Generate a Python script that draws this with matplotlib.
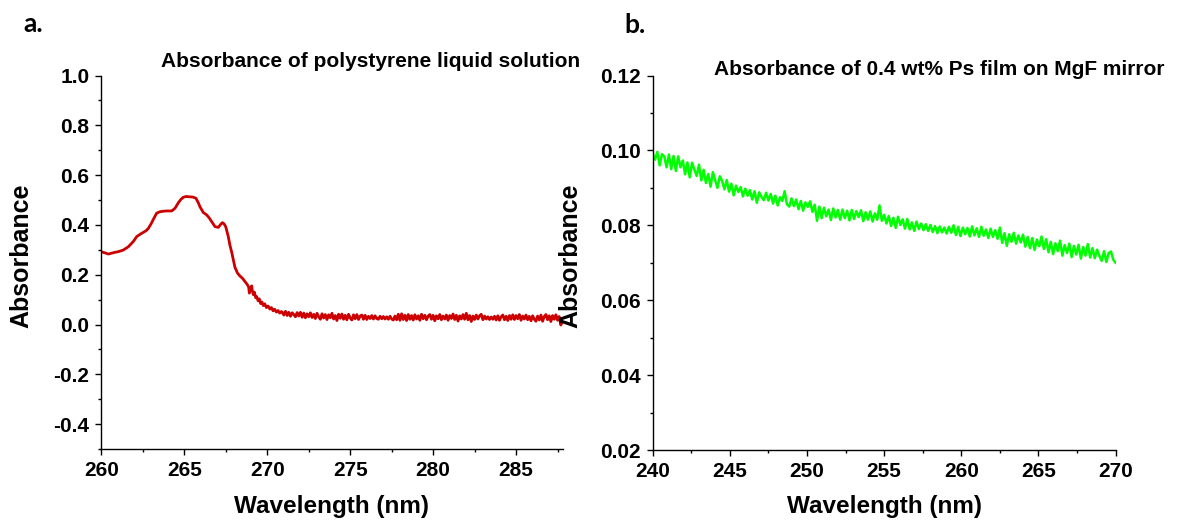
import numpy as np
import matplotlib
matplotlib.use("Agg")
import matplotlib.pyplot as plt
from matplotlib.ticker import MultipleLocator, FormatStrFormatter

# ---------------- data: panel a (polystyrene liquid solution) ----------------
head_wl = [260.0, 260.2, 260.42, 260.6, 260.82, 261.0, 261.32, 261.62, 261.92, 262.13,
           262.35, 262.53, 262.7, 262.83, 263.0, 263.13, 263.33, 263.53, 263.75, 263.94,
           264.24, 264.44, 264.64, 264.8, 264.94, 265.1, 265.34, 265.5, 265.7, 265.85,
           265.94, 266.14, 266.35, 266.5, 266.65, 266.85, 267.05, 267.2, 267.29, 267.4,
           267.5, 267.65, 267.75, 267.85, 267.95, 268.05, 268.2, 268.35, 268.5, 268.66,
           268.8, 268.88, 268.92, 268.98, 269.06, 269.1, 269.16, 269.22, 269.3, 269.36,
           269.45, 269.52, 269.6, 269.68, 269.76, 269.85, 269.95, 270.05, 270.16, 270.25,
           270.35, 270.45, 270.55, 270.65, 270.75, 270.85]
head_abs = [0.292, 0.288, 0.283, 0.286, 0.290, 0.292, 0.299, 0.312, 0.333, 0.353,
            0.363, 0.370, 0.377, 0.386, 0.405, 0.422, 0.447, 0.453, 0.455, 0.456,
            0.456, 0.467, 0.489, 0.503, 0.511, 0.514, 0.513, 0.512, 0.507, 0.488,
            0.473, 0.450, 0.440, 0.428, 0.413, 0.393, 0.390, 0.403, 0.409, 0.404,
            0.392, 0.353, 0.318, 0.292, 0.260, 0.230, 0.207, 0.195, 0.186, 0.172,
            0.160, 0.150, 0.126, 0.145, 0.155, 0.135, 0.120, 0.130, 0.108, 0.112,
            0.095, 0.103, 0.084, 0.090, 0.076, 0.083, 0.068, 0.074, 0.062, 0.068,
            0.055, 0.061, 0.050, 0.056, 0.046, 0.052]

# tail sampled every 0.1 nm from 270.9 nm to 287.8 nm
tail_start, tail_step = 270.9, 0.1
tail_abs = [0.050, 0.038, 0.053, 0.036, 0.049, 0.033, 0.047, 0.040, 0.031, 0.048,
            0.034, 0.049, 0.029, 0.046, 0.027, 0.043, 0.031, 0.047, 0.028, 0.041,
            0.024, 0.045, 0.031, 0.021, 0.043, 0.026, 0.040, 0.020, 0.039, 0.027,
            0.045, 0.022, 0.036, 0.016, 0.041, 0.025, 0.042, 0.021, 0.037, 0.019,
            0.041, 0.026, 0.018, 0.039, 0.023, 0.040, 0.020, 0.034, 0.038, 0.021,
            0.037, 0.020, 0.033, 0.024, 0.036, 0.022, 0.035, 0.024, 0.021, 0.033,
            0.023, 0.032, 0.022, 0.031, 0.021, 0.033, 0.022, 0.018, 0.034, 0.019,
            0.041, 0.017, 0.043, 0.020, 0.037, 0.016, 0.040, 0.021, 0.036, 0.018,
            0.039, 0.022, 0.035, 0.017, 0.041, 0.023, 0.037, 0.019, 0.034, 0.040,
            0.021, 0.037, 0.015, 0.035, 0.023, 0.040, 0.019, 0.034, 0.022, 0.038,
            0.017, 0.036, 0.024, 0.042, 0.020, 0.037, 0.014, 0.035, 0.022, 0.040,
            0.021, 0.045, 0.019, 0.036, 0.012, 0.034, 0.020, 0.038, 0.022, 0.035,
            0.041, 0.019, 0.034, 0.022, 0.031, 0.020, 0.030, 0.021, 0.033, 0.018,
            0.035, 0.017, 0.031, 0.038, 0.019, 0.033, 0.016, 0.036, 0.021, 0.039,
            0.020, 0.036, 0.023, 0.040, 0.017, 0.034, 0.022, 0.038, 0.019, 0.033,
            0.015, 0.035, 0.021, 0.013, 0.034, 0.018, 0.038, 0.013, 0.032, 0.040,
            0.019, 0.035, 0.012, 0.036, 0.021, 0.039, 0.017, 0.032, -0.002, 0.016]

# ---------------- data: panel b (0.4 wt% Ps film on MgF mirror) ----------------
film_start, film_step = 240.0, 0.15
film_abs = [0.0992, 0.0975, 0.0996, 0.0960, 0.0990, 0.0984, 0.0955, 0.0989, 0.0950, 0.0985,
            0.0945, 0.0984, 0.0955, 0.0973, 0.0936, 0.0968, 0.0928, 0.0967, 0.0949, 0.0932,
            0.0962, 0.0920, 0.0948, 0.0913, 0.0937, 0.0903, 0.0942, 0.0920, 0.0900, 0.0931,
            0.0918, 0.0896, 0.0921, 0.0890, 0.0911, 0.0880, 0.0906, 0.0889, 0.0902, 0.0877,
            0.0898, 0.0879, 0.0894, 0.0869, 0.0891, 0.0860, 0.0888, 0.0876, 0.0867, 0.0887,
            0.0866, 0.0884, 0.0858, 0.0879, 0.0853, 0.0875, 0.0865, 0.0891, 0.0856, 0.0850,
            0.0872, 0.0851, 0.0869, 0.0843, 0.0865, 0.0839, 0.0861, 0.0849, 0.0864, 0.0836,
            0.0855, 0.0812, 0.0850, 0.0819, 0.0847, 0.0824, 0.0842, 0.0814, 0.0845, 0.0821,
            0.0841, 0.0815, 0.0842, 0.0819, 0.0839, 0.0813, 0.0841, 0.0817, 0.0838, 0.0822,
            0.0840, 0.0811, 0.0835, 0.0815, 0.0837, 0.0810, 0.0832, 0.0815, 0.0853, 0.0812,
            0.0828, 0.0805, 0.0825, 0.0798, 0.0820, 0.0793, 0.0823, 0.0801, 0.0816, 0.0791,
            0.0817, 0.0789, 0.0808, 0.0785, 0.0810, 0.0790, 0.0805, 0.0787, 0.0803, 0.0785,
            0.0801, 0.0782, 0.0798, 0.0779, 0.0797, 0.0781, 0.0794, 0.0778, 0.0796, 0.0780,
            0.0800, 0.0774, 0.0796, 0.0771, 0.0794, 0.0776, 0.0793, 0.0770, 0.0797, 0.0773,
            0.0792, 0.0769, 0.0796, 0.0772, 0.0789, 0.0766, 0.0791, 0.0769, 0.0787, 0.0764,
            0.0794, 0.0753, 0.0779, 0.0745, 0.0776, 0.0756, 0.0780, 0.0751, 0.0773, 0.0754,
            0.0775, 0.0743, 0.0769, 0.0739, 0.0766, 0.0734, 0.0762, 0.0744, 0.0770, 0.0737,
            0.0763, 0.0728, 0.0756, 0.0723, 0.0752, 0.0731, 0.0759, 0.0719, 0.0747, 0.0726,
            0.0751, 0.0715, 0.0745, 0.0722, 0.0748, 0.0711, 0.0742, 0.0719, 0.0750, 0.0714,
            0.0739, 0.0712, 0.0735, 0.0718, 0.0705, 0.0731, 0.0702, 0.0726, 0.0730, 0.0708,
            0.0700]

# ---------------- text ----------------
panel_letters = ["a.", "b."]
titles = ["Absorbance of polystyrene liquid solution",
          "Absorbance of 0.4 wt% Ps film on MgF mirror"]
xlabel = "Wavelength (nm)"
ylabel = "Absorbance"
xticks_a = [260, 265, 270, 275, 280, 285]
yticks_a = [-0.4, -0.2, 0.0, 0.2, 0.4, 0.6, 0.8, 1.0]
xticks_b = [240, 245, 250, 255, 260, 265, 270]
yticks_b = [0.02, 0.04, 0.06, 0.08, 0.10, 0.12]

# ---------------- build arrays ----------------
tail_wl = tail_start + tail_step * np.arange(len(tail_abs))
wl_a = np.concatenate([head_wl, tail_wl])
abs_a = np.concatenate([head_abs, tail_abs])
wl_b = film_start + film_step * np.arange(len(film_abs))
abs_b = np.array(film_abs)

# ---------------- figure ----------------
W, H = 1188, 521
fig = plt.figure(figsize=(W / 100, H / 100), dpi=100)
FONT = "Liberation Sans"


def px(x0, y0, x1, y1):
    return [x0 / W, 1 - y1 / H, (x1 - x0) / W, (y1 - y0) / H]


ax_a = fig.add_axes(px(101.4, 75.5, 562.5, 449))
ax_b = fig.add_axes(px(652.7, 75.5, 1115.6, 450))

ax_a.plot(wl_a, abs_a, color="#CC0000", lw=2.0, solid_joinstyle="round")
ax_b.plot(wl_b, abs_b, color="#00FF00", lw=1.8, solid_joinstyle="round")

ax_a.set_xlim(260, 287.8)
ax_a.set_ylim(-0.5, 1.0)
ax_b.set_xlim(240, 270)
ax_b.set_ylim(0.02, 0.12)

ax_a.set_xticks(xticks_a)
ax_a.set_yticks(yticks_a)
ax_a.xaxis.set_minor_locator(MultipleLocator(2.5))
ax_a.yaxis.set_minor_locator(MultipleLocator(0.1))
ax_a.yaxis.set_major_formatter(FormatStrFormatter("%.1f"))

ax_b.set_xticks(xticks_b)
ax_b.set_yticks(yticks_b)
ax_b.xaxis.set_minor_locator(MultipleLocator(2.5))
ax_b.yaxis.set_minor_locator(MultipleLocator(0.01))
ax_b.yaxis.set_major_formatter(FormatStrFormatter("%.2f"))

for ax in (ax_a, ax_b):
    for s in ("top", "right"):
        ax.spines[s].set_visible(False)
    for s in ("left", "bottom"):
        ax.spines[s].set_linewidth(1.0)
    ax.tick_params(which="major", direction="out", length=4.5, width=1.0,
                   labelsize=15, pad=4)
    ax.tick_params(which="minor", direction="out", length=2.5, width=1.0)
    for lab in ax.get_xticklabels() + ax.get_yticklabels():
        lab.set_fontfamily(FONT)
        lab.set_fontweight("bold")

# panel letters
fig.text(33.5 / W, 1 - 24.5 / H, panel_letters[0], family="Lato", weight="bold",
         fontsize=19, ha="center", va="center")
fig.text(635.5 / W, 1 - 25 / H, panel_letters[1], family="Lato", weight="bold",
         fontsize=19, ha="center", va="center")

# titles
fig.text(371 / W, 1 - 66.7 / H, titles[0], family=FONT, weight="bold",
         fontsize=15, ha="center", va="baseline")
fig.text(939 / W, 1 - 75 / H, titles[1], family=FONT, weight="bold",
         fontsize=15, ha="center", va="baseline")

# axis labels
fig.text(332 / W, 1 - 507 / H, xlabel, family=FONT, weight="bold",
         fontsize=17.5, ha="center", va="center")
fig.text(884 / W, 1 - 507 / H, xlabel, family=FONT, weight="bold",
         fontsize=17.5, ha="center", va="center")
fig.text(21 / W, 1 - 256 / H, ylabel, family=FONT, weight="bold",
         fontsize=18, ha="center", va="center", rotation=90)
fig.text(570 / W, 1 - 256 / H, ylabel, family=FONT, weight="bold",
         fontsize=18, ha="center", va="center", rotation=90)

fig.savefig("out.png", dpi=100)
